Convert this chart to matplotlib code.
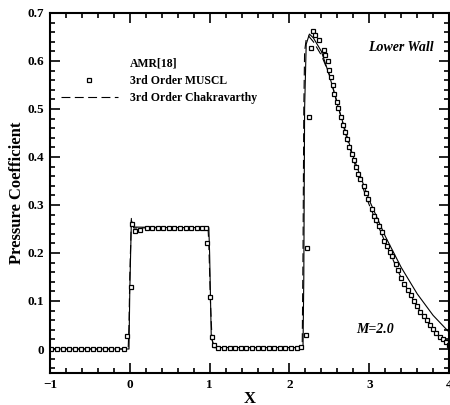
import matplotlib
matplotlib.use("Agg")
from matplotlib import pyplot as plt
from matplotlib.ticker import MultipleLocator
from matplotlib.lines import Line2D

# 3rd order MUSCL (squares)
muscl_x = [-0.99, -0.914, -0.838, -0.762, -0.686, -0.61, -0.534, -0.458, -0.382, -0.306, -0.23, -0.154, -0.078,
           -0.03, 0.01, 0.03, 0.06, 0.125,
           0.21, 0.28, 0.35, 0.42, 0.49, 0.56, 0.63, 0.70, 0.77, 0.84, 0.91, 0.96,
           0.97, 1.01, 1.03, 1.05,
           1.11, 1.18, 1.25, 1.32, 1.39, 1.46, 1.53, 1.60, 1.67, 1.74, 1.81, 1.88, 1.95, 2.02, 2.09, 2.15,
           2.21, 2.22, 2.25, 2.27, 2.29, 2.32, 2.37, 2.43, 2.45, 2.48, 2.50, 2.52, 2.54, 2.56, 2.59,
           2.61, 2.64, 2.67, 2.70, 2.72, 2.75, 2.78, 2.81, 2.83, 2.86, 2.89, 2.93, 2.96, 2.99, 3.03, 3.06,
           3.09, 3.12, 3.16, 3.19, 3.22, 3.26, 3.29, 3.33, 3.36, 3.40, 3.44, 3.48, 3.52, 3.56, 3.60,
           3.64, 3.68, 3.72, 3.76, 3.80, 3.84, 3.88, 3.92, 3.96, 4.0]
muscl_y = [0.0, 0.0, 0.0, 0.0, 0.0, 0.0, 0.0, 0.0, 0.0, 0.0, 0.0, 0.0, 0.0,
           0.028, 0.13, 0.26, 0.246, 0.248,
           0.253, 0.253, 0.253, 0.253, 0.253, 0.253, 0.253, 0.253, 0.253, 0.253, 0.253, 0.253,
           0.22, 0.109, 0.024, 0.008,
           0.003, 0.003, 0.003, 0.003, 0.003, 0.003, 0.003, 0.003, 0.003, 0.003, 0.003, 0.003, 0.003, 0.003, 0.003, 0.004,
           0.029, 0.21, 0.484, 0.627, 0.662, 0.655, 0.644, 0.623, 0.613, 0.599, 0.581, 0.567, 0.55, 0.532, 0.515,
           0.501, 0.484, 0.466, 0.452, 0.438, 0.421, 0.407, 0.393, 0.379, 0.365, 0.354, 0.34, 0.326, 0.312, 0.291, 0.277,
           0.268, 0.256, 0.244, 0.226, 0.215, 0.203, 0.193, 0.178, 0.165, 0.148, 0.135, 0.122, 0.112, 0.1, 0.09,
           0.078, 0.068, 0.06, 0.05, 0.042, 0.033, 0.026, 0.02, 0.014, 0.009]

# AMR[18] (solid line)
amr_x = [-1.0, -0.01, 0.0, 0.02, 0.05, 0.5, 0.99, 1.0, 1.02, 1.05, 2.17, 2.18, 2.19, 2.21, 2.25, 2.3,
         2.4, 2.5, 2.6, 2.7, 2.8, 2.9, 3.0, 3.2, 3.4, 3.6, 3.8, 4.0]
amr_y = [0.0, 0.0, 0.12, 0.268, 0.254, 0.253, 0.253, 0.2, 0.03, 0.003, 0.003, 0.15, 0.5, 0.635, 0.656, 0.648,
         0.62, 0.57, 0.51, 0.455, 0.40, 0.355, 0.31, 0.235, 0.17, 0.115, 0.07, 0.035]

# 3rd order Chakravarthy (dashed line)
chak_x = [-1.0, -0.02, -0.01, 0.0, 0.02, 0.05, 0.5, 0.98, 0.99, 1.01, 1.03, 1.06, 2.16, 2.17, 2.18, 2.19, 2.21,
          2.24, 2.3, 2.4, 2.5, 2.6, 2.7, 2.8, 2.9, 3.0, 3.2, 3.4, 3.6, 3.8, 4.0]
chak_y = [0.0, 0.0, 0.05, 0.15, 0.272, 0.252, 0.253, 0.253, 0.22, 0.1, 0.02, 0.003, 0.003, 0.2, 0.5, 0.62, 0.645,
          0.652, 0.64, 0.612, 0.572, 0.512, 0.45, 0.395, 0.345, 0.3, 0.222, 0.148, 0.088, 0.04, 0.006]

serif = "Liberation Serif"

fig = plt.figure(figsize=(4.5, 4.05), dpi=100)
ax = fig.add_axes([0.111, 0.079, 0.887, 0.889])

ax.plot(amr_x, amr_y, color="black", lw=0.8)
ax.plot(chak_x, chak_y, color="black", lw=0.8, ls=(0, (8, 4)))
ax.plot(muscl_x, muscl_y, ls="none", marker="s", ms=3.0, mfc="white", mec="black", mew=0.9)

ax.set_xlim(-1, 4)
ax.set_ylim(-0.05, 0.7)
ax.xaxis.set_major_locator(MultipleLocator(1))
ax.xaxis.set_minor_locator(MultipleLocator(0.2))
ax.yaxis.set_minor_locator(MultipleLocator(0.02))
ax.set_yticks([0, 0.1, 0.2, 0.3, 0.4, 0.5, 0.6, 0.7])
ax.set_yticklabels(["0", "0.1", "0.2", "0.3", "0.4", "0.5", "0.6", "0.7"])
ax.tick_params(which="both", direction="in", top=True, right=True, width=1.2)
ax.tick_params(which="major", length=7, labelsize=9.5, pad=4)
ax.tick_params(which="minor", length=3.5)
for lab in ax.get_xticklabels() + ax.get_yticklabels():
    lab.set_fontfamily(serif)
    lab.set_fontweight("bold")
for s in ax.spines.values():
    s.set_linewidth(1.5)

ax.set_xlabel("X", fontfamily=serif, fontweight="bold", fontsize=12, labelpad=0)
ax.set_ylabel("Pressure Coefficient", fontfamily=serif, fontweight="bold", fontsize=12, labelpad=2)

handles = [Line2D([], [], ls="none"),
           Line2D([], [], ls="none", marker="s", ms=3.0, mfc="white", mec="black", mew=0.9),
           Line2D([], [], color="black", lw=0.8, ls=(0, (8, 4)))]
ax.legend(handles, ["AMR[18]", "3rd Order MUSCL", "3rd Order Chakravarthy"],
          loc="upper left", bbox_to_anchor=(0.0, 0.905), frameon=False, handlelength=4.9,
          handletextpad=0.95, labelspacing=0.42, prop={"family": serif, "weight": "bold", "size": 8.5})

ax.text(0.88, 0.905, "Lower Wall", transform=ax.transAxes, fontfamily=serif, fontweight="bold",
        fontstyle="italic", fontsize=10, ha="center", va="center")
ax.text(0.815, 0.12, "M=2.0", transform=ax.transAxes, fontfamily=serif, fontweight="bold",
        fontstyle="italic", fontsize=10, ha="center", va="center")

fig.savefig("out.png", dpi=100)
